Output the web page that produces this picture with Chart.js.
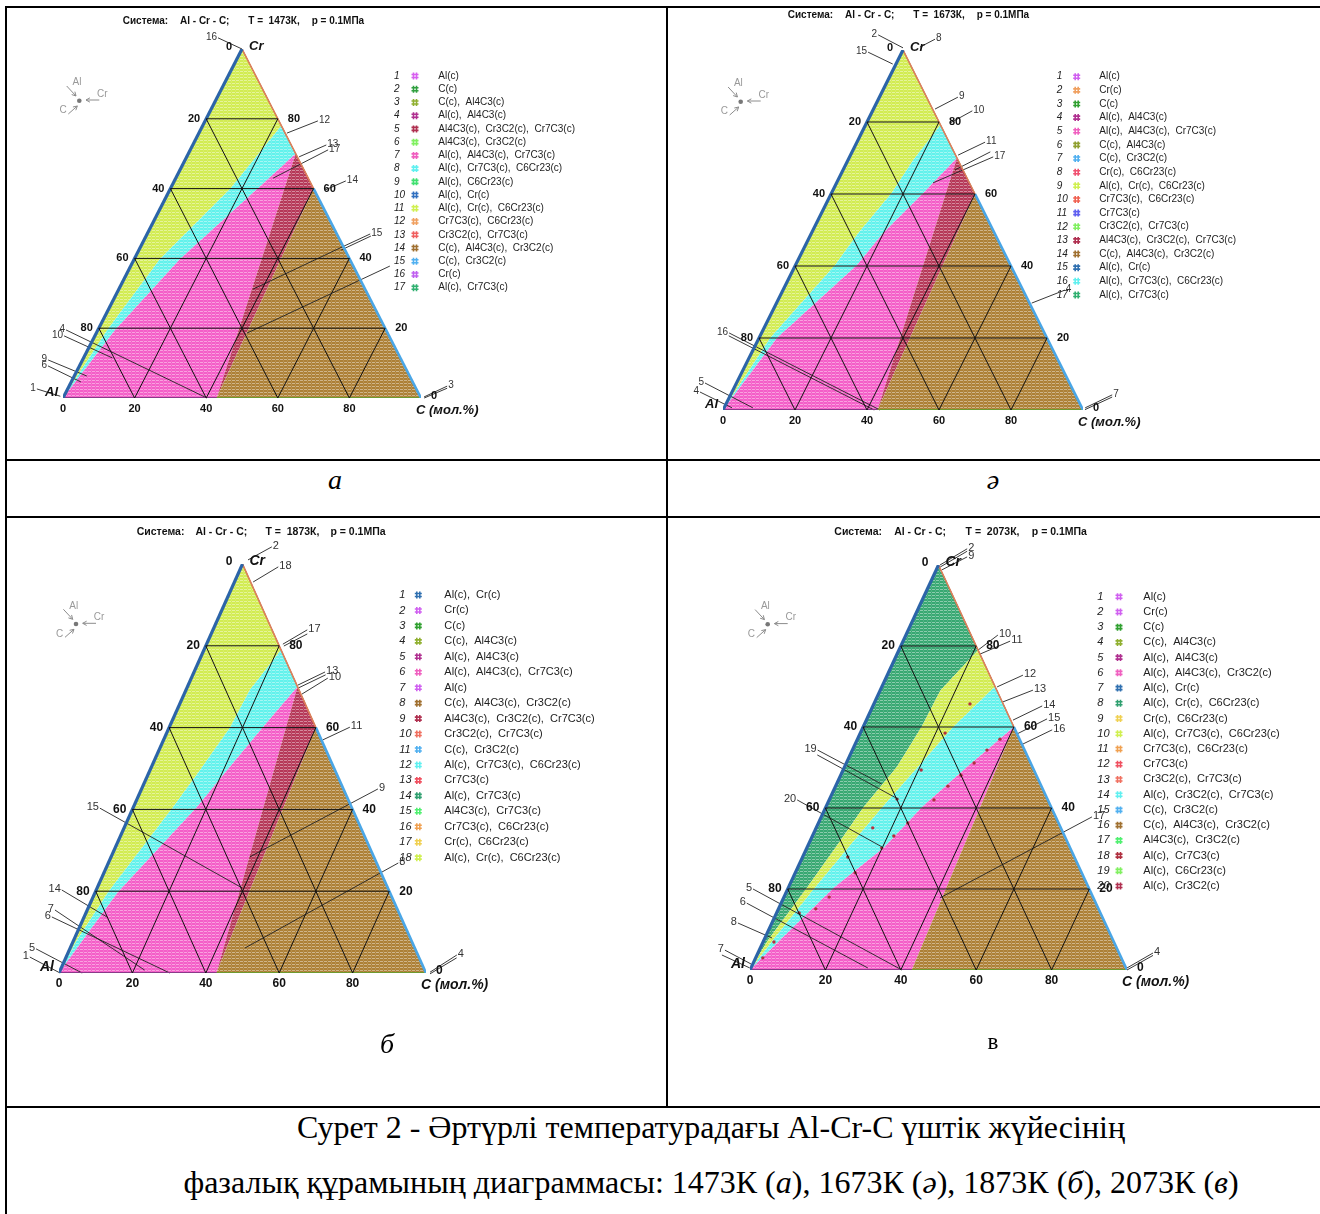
<!DOCTYPE html>
<html>
<head>
<meta charset="utf-8">
<script src="https://cdn.jsdelivr.net/npm/chart.js@4.4.1/dist/chart.umd.min.js"></script>
<style>
  body { margin: 0; background: #fff; }
  #page { position: relative; width: 1320px; height: 1214px; overflow: hidden; background: #fff; }
  .hl { position: absolute; height: 2px; background: #000; }
  .vl { position: absolute; width: 2px; background: #000; }
  canvas { position: absolute; }
  .cap { position: absolute; font-family: "Liberation Serif", "Times New Roman", serif; color: #000; white-space: nowrap; }
</style>
</head>
<body>
<div id="page">
  <div class="hl" style="left:5px;top:6px;width:1315px"></div>
  <div class="vl" style="left:5px;top:6px;height:1208px"></div>
  <div class="vl" style="left:666px;top:6px;height:1101px"></div>
  <div class="hl" style="left:5px;top:459px;width:1315px"></div>
  <div class="hl" style="left:5px;top:516px;width:1315px"></div>
  <div class="hl" style="left:5px;top:1106px;width:1315px"></div>

  <canvas id="chartA"></canvas>
  <canvas id="chartE"></canvas>
  <canvas id="chartB"></canvas>
  <canvas id="chartV"></canvas>

  <div class="cap" style="left:285px;width:100px;top:464px;text-align:center;font-size:28px;font-style:italic">а</div>
  <div class="cap" style="left:943px;width:100px;top:464px;text-align:center;font-size:28px;font-style:italic">ә</div>
  <div class="cap" style="left:337px;width:100px;top:1028px;text-align:center;font-size:28px;font-style:italic">б</div>
  <div class="cap" style="left:943px;width:100px;top:1029px;text-align:center;font-size:23px">в</div>
  <div class="cap" style="left:0;width:1422px;top:1109px;text-align:center;font-size:32px">Сурет 2 - Әртүрлі температурадағы Al-Cr-C үштік жүйесінің</div>
  <div class="cap" style="left:0;width:1422px;top:1164px;text-align:center;font-size:32px">фазалық құрамының диаграммасы: 1473К (<i>а</i>), 1673К (<i>ә</i>), 1873К (<i>б</i>), 2073К (<i>в</i>)</div>
</div>

<script>
// grid ticks, mol.%
const TICKS = [20, 40, 60, 80];
// compound points on the edges, [C, Cr] mol.%
const AL4C3 = [42.9, 0];
const CR3C2 = [40, 60];
const CR7C3 = [30, 70];

// ---------- а : 1473K ----------
const aYellowCyan = [[0, 0], [2.6, 19.5], [7.2, 39.8], [16.7, 59.9], [22, 78]];
const aCyanPink = [[0, 0], [4.8, 19.5], [12.8, 39.8], [24.3, 59.9], [30, 70]];
const legendA = [
  ['Al(c)', '#d860f0'], ['C(c)', '#30a040'], ['C(c),  Al4C3(c)', '#90b030'], ['Al(c),  Al4C3(c)', '#b03090'],
  ['Al4C3(c),  Cr3C2(c),  Cr7C3(c)', '#b03050'], ['Al4C3(c),  Cr3C2(c)', '#80f060'], ['Al(c),  Al4C3(c),  Cr7C3(c)', '#f060c0'],
  ['Al(c),  Cr7C3(c),  C6Cr23(c)', '#60f0f0'], ['Al(c),  C6Cr23(c)', '#40e070'], ['Al(c),  Cr(c)', '#3070c0'],
  ['Al(c),  Cr(c),  C6Cr23(c)', '#d0f050'], ['Cr7C3(c),  C6Cr23(c)', '#f0a060'], ['Cr3C2(c),  Cr7C3(c)', '#f06060'],
  ['C(c),  Al4C3(c),  Cr3C2(c)', '#a07030'], ['C(c),  Cr3C2(c)', '#50b0f0'], ['Cr(c)', '#c060f0'], ['Al(c),  Cr7C3(c)', '#30b070']
];
// [label, fromC, fromCr, toC, toCr]
const leadersA = [
  ['16', -8.3, 103.2, 0, 100], ['12', 31.5, 79.4, 24.6, 75.9], ['13', 37.3, 72.5, 31.4, 69.1],
  ['17', 38.5, 71.1, 27.2, 63], ['14', 47.9, 62.2, 43.4, 59.6], ['15', 62.3, 47, 55.9, 43],
  ['', 62.8, 46.4, 56.5, 42.4], ['', 55.9, 43, 37.5, 31.2], ['', 72.4, 37.8, 42.1, 18.6],
  ['4', -8.9, 19.5, 40.2, 0], ['10', -8.6, 17.8, 8, 11.5], ['9', -9.6, 10.9, 3.5, 6.3],
  ['6', -8.8, 9.2, 2.7, 4.6], ['1', -8.6, 2.6, -1, 0.5], ['3', 105.6, 3.4, 100.7, 0.3], ['', 105.9, 2.8, 100.9, 0]
];

// ---------- ә : 1673K ----------
const eYellowCyan = [[0, 0], [3.1, 20], [11, 40.3], [13, 49.2], [16.7, 60.3], [18.1, 69.4], [20.8, 79.2]];
const eCyanPink = [[0, 0], [5, 20], [17.1, 40.3], [19.9, 49.2], [25.5, 60.3], [30, 70]];
const legendE = [
  ['Al(c)', '#d060f0'], ['Cr(c)', '#f0a060'], ['C(c)', '#30a030'], ['Al(c),  Al4C3(c)', '#b03090'],
  ['Al(c),  Al4C3(c),  Cr7C3(c)', '#f060c0'], ['C(c),  Al4C3(c)', '#90a030'], ['C(c),  Cr3C2(c)', '#50b0f0'],
  ['Cr(c),  C6Cr23(c)', '#f05070'], ['Al(c),  Cr(c),  C6Cr23(c)', '#d0f050'], ['Cr7C3(c),  C6Cr23(c)', '#f06050'],
  ['Cr7C3(c)', '#6060f0'], ['Cr3C2(c),  Cr7C3(c)', '#80f060'], ['Al4C3(c),  Cr3C2(c),  Cr7C3(c)', '#b03050'],
  ['C(c),  Al4C3(c),  Cr3C2(c)', '#a07030'], ['Al(c),  Cr(c)', '#3070b0'], ['Al(c),  Cr7C3(c),  C6Cr23(c)', '#60f0f0'],
  ['Al(c),  Cr7C3(c)', '#30b070']
];
const leadersE = [
  ['2', -9, 104.2, -0.3, 100.6], ['8', 7.4, 103, 4.3, 100.8], ['15', -9.4, 99.4, -0.9, 96.1],
  ['9', 21.8, 86.9, 17.1, 83.6], ['10', 27.7, 83.1, 23.2, 79.7], ['11', 35.6, 74.4, 29.9, 70.8],
  ['17', 39.9, 70.3, 26.8, 63.1], ['', 38.4, 71.7, 31.1, 66.7], ['16', -9, 21.4, 43.6, 0],
  ['', -8.7, 20.6, 42, 0], ['5', -8.75, 7.5, 8, 0.6], ['4', -8.9, 5, 2.2, 0.6],
  ['7', 106, 4.2, 100.3, 0.6], ['', 106.3, 3.6, 100.5, 0.1], ['4', 78.3, 33.3, 70.9, 29.7]
];

// ---------- б : 1873K ----------
const bYellowCyan = [[0, 0], [0.9, 8.1], [3.5, 19.8], [10.8, 40.6], [13.6, 49.6], [16.6, 60.1], [17.4, 69.2], [21, 79]];
const bCyanPink = [[0, 0], [2.5, 8.1], [6.2, 19.8], [17.3, 40.6], [21, 49.6], [25.5, 60.1], [30, 70]];
const legendB = [
  ['Al(c),  Cr(c)', '#3070b0'], ['Cr(c)', '#d060f0'], ['C(c)', '#30a030'], ['C(c),  Al4C3(c)', '#90b030'],
  ['Al(c),  Al4C3(c)', '#b03090'], ['Al(c),  Al4C3(c),  Cr7C3(c)', '#f060c0'], ['Al(c)', '#d060f0'],
  ['C(c),  Al4C3(c),  Cr3C2(c)', '#a07030'], ['Al4C3(c),  Cr3C2(c),  Cr7C3(c)', '#b03050'], ['Cr3C2(c),  Cr7C3(c)', '#f07060'],
  ['C(c),  Cr3C2(c)', '#50b0f0'], ['Al(c),  Cr7C3(c),  C6Cr23(c)', '#60f0f0'], ['Cr7C3(c)', '#f05060'],
  ['Al(c),  Cr7C3(c)', '#30a070'], ['Al4C3(c),  Cr7C3(c)', '#50f070'], ['Cr7C3(c),  C6Cr23(c)', '#f0a050'],
  ['Cr(c),  C6Cr23(c)', '#f0d050'], ['Al(c),  Cr(c),  C6Cr23(c)', '#d0f050']
];
const leadersB = [
  ['2', 5.9, 104.2, 1, 101], ['18', 10.1, 99.3, 5.1, 95.6], ['17', 25.7, 83.9, 20.8, 80.4],
  ['', 26.2, 82.9, 21.3, 79.95], ['13', 35.7, 73.6, 29.9, 70.4], ['', 36.2, 72.9, 30.4, 69.7],
  ['10', 37.2, 72.1, 32.1, 68.2], ['11', 49.2, 60.1, 43.4, 57], ['9', 64.4, 45, 37.8, 28.4],
  ['15', -9, 40.3, 39.5, 20.8], ['14', -9.4, 20.3, 6.2, 13.7], ['7', -8.8, 15.4, 23, 0.7],
  ['6', -8.8, 13.7, 30.2, 0], ['5', -9.2, 5.9, 6.3, 0], ['1', -9.9, 3.9, 0.3, 0],
  ['4', 106.2, 4.4, 101, 0.2], ['', 106.5, 3.7, 101.2, -0.2], ['8', 79, 26.9, 47.6, 6.1]
];

// ---------- в : 2073K ----------
const vGreenYellow = [[0, 0], [1.1, 7.4], [4.9, 20.2], [7.6, 30.4], [10, 40.2], [13.9, 50.1], [15.5, 60], [16, 69], [21, 79]];
const vYellowCyan = [[0, 0], [2.4, 7.4], [7, 20.2], [11, 30.4], [15, 40.2], [19.5, 50.1], [23.9, 60], [30, 70]];
const vCyanPink = [[0, 0], [4.3, 7.4], [12, 20.2], [20.5, 30.4], [25.5, 40.2], [32.5, 50.1], [40, 60]];
const vDots = [
  [25.5, 65.7], [22.5, 58.5], [20.7, 49.4], [33.9, 51.1], [31.9, 48.1], [29.8, 45.4], [27.8, 42],
  [37.8, 57], [35.7, 54.3], [17.9, 42.2], [15, 35.1], [19.9, 30.1], [12, 27.9], [15.9, 24],
  [21.6, 33.1], [23.7, 36.3], [12, 18], [9.9, 15.1], [6, 14.1], [2.9, 6.9], [1.9, 3]
];
const legendV = [
  ['Al(c)', '#d060f0'], ['Cr(c)', '#d060f0'], ['C(c)', '#30a030'], ['C(c),  Al4C3(c)', '#90b030'],
  ['Al(c),  Al4C3(c)', '#b03090'], ['Al(c),  Al4C3(c),  Cr3C2(c)', '#f060c0'], ['Al(c),  Cr(c)', '#3070b0'],
  ['Al(c),  Cr(c),  C6Cr23(c)', '#30a070'], ['Cr(c),  C6Cr23(c)', '#f0d050'], ['Al(c),  Cr7C3(c),  C6Cr23(c)', '#d0f050'],
  ['Cr7C3(c),  C6Cr23(c)', '#f0a050'], ['Cr7C3(c)', '#f05060'], ['Cr3C2(c),  Cr7C3(c)', '#f07060'],
  ['Al(c),  Cr3C2(c),  Cr7C3(c)', '#60f0f0'], ['C(c),  Cr3C2(c)', '#50b0f0'], ['C(c),  Al4C3(c),  Cr3C2(c)', '#a07030'],
  ['Al4C3(c),  Cr3C2(c)', '#50f070'], ['Al(c),  Cr7C3(c)', '#b03040'], ['Al(c),  C6Cr23(c)', '#80f060'],
  ['Al(c),  Cr3C2(c)', '#b03050']
];
const leadersV = [
  ['2', 5.6, 104, 0.4, 100], ['', 5.9, 103.4, 0.7, 99.5], ['9', 6.6, 102, 1.5, 98.8],
  ['10', 24.4, 82.7, 21, 79], ['11', 28.4, 81.2, 22, 78], ['12', 36, 72.8, 30.6, 69.9],
  ['13', 40.5, 69.1, 34, 66.2], ['14', 44.9, 65.2, 38.9, 61.7], ['15', 47.8, 62, 41.7, 58.3],
  ['16', 50.5, 59.3, 44.5, 55.8], ['19', -9.2, 54.3, 12, 45.9], ['', -8.7, 53.1, 18.2, 42.2],
  ['20', -8.5, 42, 19.8, 30.4], ['5', -9.2, 20, 40.3, 0], ['6', -9.1, 16.5, 31, 0.5],
  ['8', -9, 11.6, 1.9, 7.9], ['7', -9.1, 4.9, -0.5, 1.5], ['', -9.3, 3.7, -0.3, 0.5],
  ['4', 104.8, 4.2, 99.75, 0.5], ['', 105.1, 3.6, 100, 0], ['17', 71.8, 37.8, 41.5, 17.8]
];

// region colours
const YELLOW = '#d2ec52', CYAN = '#62f2ec', PINK = '#f45ec8', DARKRED = '#b63858', BROWN = '#ad8036', GREEN = '#38a872';

const rev = a => a.slice().reverse();
const xy = p => ({ x: p[0] + p[1] / 2, y: p[1] });

function lowTempRegions(yc, cp) {
  return [
    { color: YELLOW, pts: [...yc, [0, 100]] },
    { color: CYAN, pts: [...yc, ...rev(cp)] },
    { color: PINK, pts: [...cp, AL4C3] },
    { color: DARKRED, pts: [AL4C3, CR7C3, CR3C2] },
    { color: BROWN, pts: [AL4C3, CR3C2, [100, 0]] }
  ];
}

const SANS = '"Liberation Sans", Arial, sans-serif';

function arrow(ctx, x1, y1, x2, y2) {
  const a = Math.atan2(y2 - y1, x2 - x1), h = 4.5;
  ctx.beginPath();
  ctx.moveTo(x1, y1); ctx.lineTo(x2, y2);
  ctx.moveTo(x2 - h * Math.cos(a - 0.5), y2 - h * Math.sin(a - 0.5));
  ctx.lineTo(x2, y2);
  ctx.lineTo(x2 - h * Math.cos(a + 0.5), y2 - h * Math.sin(a + 0.5));
  ctx.stroke();
}

function drawCompass(ctx, cx, cy) {
  ctx.save();
  ctx.strokeStyle = '#8c8c8c'; ctx.fillStyle = '#777'; ctx.lineWidth = 1;
  ctx.beginPath(); ctx.arc(cx, cy, 2.3, 0, Math.PI * 2); ctx.fill();
  arrow(ctx, cx - 12.6, cy - 14.7, cx - 3.3, cy - 4.7);
  arrow(ctx, cx + 20, cy - 0.7, cx + 6.7, cy - 0.7);
  arrow(ctx, cx - 11, cy + 13.3, cx - 2, cy + 5.3);
  ctx.font = '10px ' + SANS;
  ctx.fillStyle = '#999';
  ctx.textAlign = 'center'; ctx.textBaseline = 'middle';
  ctx.fillText('Al', cx - 2.3, cy - 18);
  ctx.fillText('Cr', cx + 23, cy - 6.7);
  ctx.fillText('C', cx - 16.3, cy + 10);
  ctx.restore();
}

function makePattern(ctx, color) {
  const c = document.createElement('canvas');
  c.width = 4; c.height = 3;
  const g = c.getContext('2d');
  g.fillStyle = color; g.fillRect(0, 0, 4, 3);
  g.fillStyle = 'rgba(255,255,255,0.42)'; g.fillRect(0, 2, 3, 1);
  g.fillStyle = 'rgba(255,255,255,0.12)'; g.fillRect(3, 0, 1, 2);
  return ctx.createPattern(c, 'repeat');
}

function buildPanel(id, cfg) {
  const L = cfg.layout;
  const [ox, oy, cw, ch] = L.canvas;
  const canvas = document.getElementById(id);
  canvas.width = cw; canvas.height = ch;
  canvas.style.left = ox + 'px'; canvas.style.top = oy + 'px';
  const [alX, apexY, cX, baseY] = L.tri;

  const line = (pts, color, width, extra) => Object.assign({
    data: pts.map(xy), showLine: true, borderColor: color, borderWidth: width,
    pointRadius: 0, fill: false, tension: 0
  }, extra || {});

  const ds = [];
  TICKS.forEach(k => {
    ds.push(line([[0, k], [100 - k, k]], '#111', 1));
    ds.push(line([[k, 0], [k, 100 - k]], '#111', 1));
    ds.push(line([[100 - k, 0], [0, 100 - k]], '#111', 1));
  });
  ds.push(line([[0, 0], [0, 100]], '#2c64a8', 3.2));
  ds.push(line([[100, 0], CR3C2], '#4aa6e6', 2.6));
  ds.push(line([CR3C2, [0, 100]], '#e0805a', 1.6));
  ds.push(line([[0, 0], AL4C3], '#8a3a8a', 2));
  ds.push(line([AL4C3, [100, 0]], '#6e9a30', 2));
  ds.push(line([[0, 0], [0, 100], [100, 0], [0, 0]], '#1a1a1a', 0.8));
  cfg.leaders.forEach(l => ds.push(line([[l[1], l[2]], [l[3], l[4]]], '#222', 0.9, { clip: false })));
  if (cfg.dots) {
    ds.push({ data: cfg.dots.map(xy), showLine: false, pointRadius: 1.7, pointBackgroundColor: '#b3303f', pointBorderWidth: 0, clip: false });
  }

  const ternary = {
    id: 'ternary',
    beforeDatasetsDraw(chart) {
      const { ctx, scales: { x, y } } = chart;
      cfg.regions.forEach(r => {
        ctx.save();
        ctx.beginPath();
        r.pts.forEach((p, i) => {
          const px = x.getPixelForValue(p[0] + p[1] / 2), py = y.getPixelForValue(p[1]);
          if (i) ctx.lineTo(px, py); else ctx.moveTo(px, py);
        });
        ctx.closePath();
        ctx.fillStyle = makePattern(ctx, r.color);
        ctx.fill();
        ctx.restore();
      });
    },
    afterDatasetsDraw(chart) {
      const { ctx, scales: { x, y } } = chart;
      const P = p => [x.getPixelForValue(p[0] + p[1] / 2), y.getPixelForValue(p[1])];
      ctx.save();
      ctx.textBaseline = 'middle';

      // title
      ctx.fillStyle = '#111';
      ctx.font = 'bold ' + L.titleSize + 'px ' + SANS;
      ctx.textAlign = 'left';
      const parts = ['Система:', 'Al - Cr - C;', 'T =  ' + cfg.temp + ',', 'p = 0.1МПа'];
      const offs = [0, 57.3, 125.6, 189];
      parts.forEach((t, i) => ctx.fillText(t, L.title[0] - ox + offs[i] * L.titleScale, L.title[1] - oy));

      // tick labels
      ctx.font = 'bold ' + L.tickSize + 'px ' + SANS;
      [0, ...TICKS].forEach(k => {
        let [px, py] = P([0, 100 - k]);
        ctx.textAlign = 'right';
        ctx.fillText(String(k), px - (k ? 6 : 10), py - (k ? 0 : 2));
        [px, py] = P([100 - k, k]);
        ctx.textAlign = 'left';
        ctx.fillText(String(k), px + 10, py - (k ? 0 : 2));
        [px, py] = P([k, 0]);
        ctx.textAlign = 'center';
        ctx.fillText(String(k), px, py + 11);
      });

      // corner labels
      ctx.font = 'bold italic ' + L.cornerSize + 'px ' + SANS;
      let [px, py] = P([0, 100]);
      ctx.textAlign = 'left'; ctx.fillText('Cr', px + 7, py - 3);
      [px, py] = P([0, 0]);
      ctx.textAlign = 'right'; ctx.fillText('Al', px - 5, py - 6);
      [px, py] = P([100, 0]);
      ctx.textAlign = 'left'; ctx.fillText('C (мол.%)', px - 5, py + 12);

      // leader labels
      ctx.font = L.leaderSize + 'px ' + SANS;
      ctx.fillStyle = '#333';
      cfg.leaders.forEach(l => {
        if (!l[0]) return;
        const [fx, fy] = P([l[1], l[2]]);
        const [tx] = P([l[3], l[4]]);
        if (fx < tx) { ctx.textAlign = 'right'; ctx.fillText(l[0], fx - 1, fy - 1); }
        else { ctx.textAlign = 'left'; ctx.fillText(l[0], fx + 1, fy - 1); }
      });

      // compass
      drawCompass(ctx, L.compass[0] - ox, L.compass[1] - oy);

      // phase legend
      const G = L.legend;
      cfg.legend.forEach((item, i) => {
        const ly = G.y0 - oy + i * G.dy;
        ctx.fillStyle = '#222';
        ctx.textAlign = 'left';
        ctx.font = 'italic ' + G.size + 'px ' + SANS;
        ctx.fillText(String(i + 1), G.num - ox, ly);
        const mx = G.mark - ox;
        ctx.strokeStyle = item[1]; ctx.lineWidth = 1.6;
        ctx.beginPath();
        [-1.5, 1.5].forEach(d => {
          ctx.moveTo(mx + d, ly - 3.5); ctx.lineTo(mx + d, ly + 3.5);
          ctx.moveTo(mx - 3.5, ly + d); ctx.lineTo(mx + 3.5, ly + d);
        });
        ctx.stroke();
        ctx.font = G.size + 'px ' + SANS;
        ctx.fillText(item[0], G.text - ox, ly);
      });
      ctx.restore();
    }
  };

  return new Chart(canvas, {
    type: 'scatter',
    data: { datasets: ds },
    options: {
      responsive: false, animation: false, devicePixelRatio: 1, events: [],
      layout: { padding: { left: alX - ox, top: apexY - oy, right: ox + cw - cX, bottom: oy + ch - baseY } },
      plugins: { legend: { display: false }, tooltip: { enabled: false } },
      scales: {
        x: { type: 'linear', min: 0, max: 100, display: false },
        y: { type: 'linear', min: 0, max: 100, display: false }
      }
    },
    plugins: [ternary]
  });
}

buildPanel('chartA', {
  temp: '1473К', regions: lowTempRegions(aYellowCyan, aCyanPink), legend: legendA, leaders: leadersA,
  layout: {
    canvas: [8, 9, 658, 450], tri: [63, 49, 421, 398],
    title: [122.7, 21], titleSize: 10, titleScale: 1,
    tickSize: 11, cornerSize: 13, leaderSize: 10, compass: [79.3, 100.7],
    legend: { num: 394, mark: 415, text: 438.3, y0: 76, dy: 13.23, size: 10 }
  }
});

buildPanel('chartE', {
  temp: '1673К', regions: lowTempRegions(eYellowCyan, eCyanPink), legend: legendE, leaders: leadersE,
  layout: {
    canvas: [668, 9, 652, 450], tri: [723, 50, 1083, 410],
    title: [787.7, 15.3], titleSize: 10, titleScale: 1,
    tickSize: 11, cornerSize: 13, leaderSize: 10, compass: [740.7, 101.7],
    legend: { num: 1056.7, mark: 1076.7, text: 1099.3, y0: 76.7, dy: 13.64, size: 10 }
  }
});

buildPanel('chartB', {
  temp: '1873К', regions: lowTempRegions(bYellowCyan, bCyanPink), legend: legendB, leaders: leadersB,
  layout: {
    canvas: [8, 518, 658, 588], tri: [59, 564, 426, 973],
    title: [136.7, 532.3], titleSize: 10.5, titleScale: 1.025,
    tickSize: 12, cornerSize: 14, leaderSize: 11, compass: [76, 624],
    legend: { num: 399.3, mark: 418.3, text: 444.3, y0: 595, dy: 15.45, size: 11 }
  }
});

buildPanel('chartV', {
  temp: '2073К',
  regions: [
    { color: GREEN, pts: [...vGreenYellow, [0, 100]] },
    { color: YELLOW, pts: [...vGreenYellow, ...rev(vYellowCyan)] },
    { color: CYAN, pts: [...vYellowCyan, ...rev(vCyanPink)] },
    { color: PINK, pts: [...vCyanPink, AL4C3] },
    { color: BROWN, pts: [AL4C3, CR3C2, [100, 0]] }
  ],
  legend: legendV, leaders: leadersV, dots: vDots,
  layout: {
    canvas: [668, 518, 652, 588], tri: [750, 565, 1127, 970],
    title: [834.3, 532.3], titleSize: 10.5, titleScale: 1.045,
    tickSize: 12, cornerSize: 14, leaderSize: 11, compass: [767.7, 624.3],
    legend: { num: 1097.3, mark: 1119, text: 1143.3, y0: 596.7, dy: 15.23, size: 11 }
  }
});
</script>
</body>
</html>
